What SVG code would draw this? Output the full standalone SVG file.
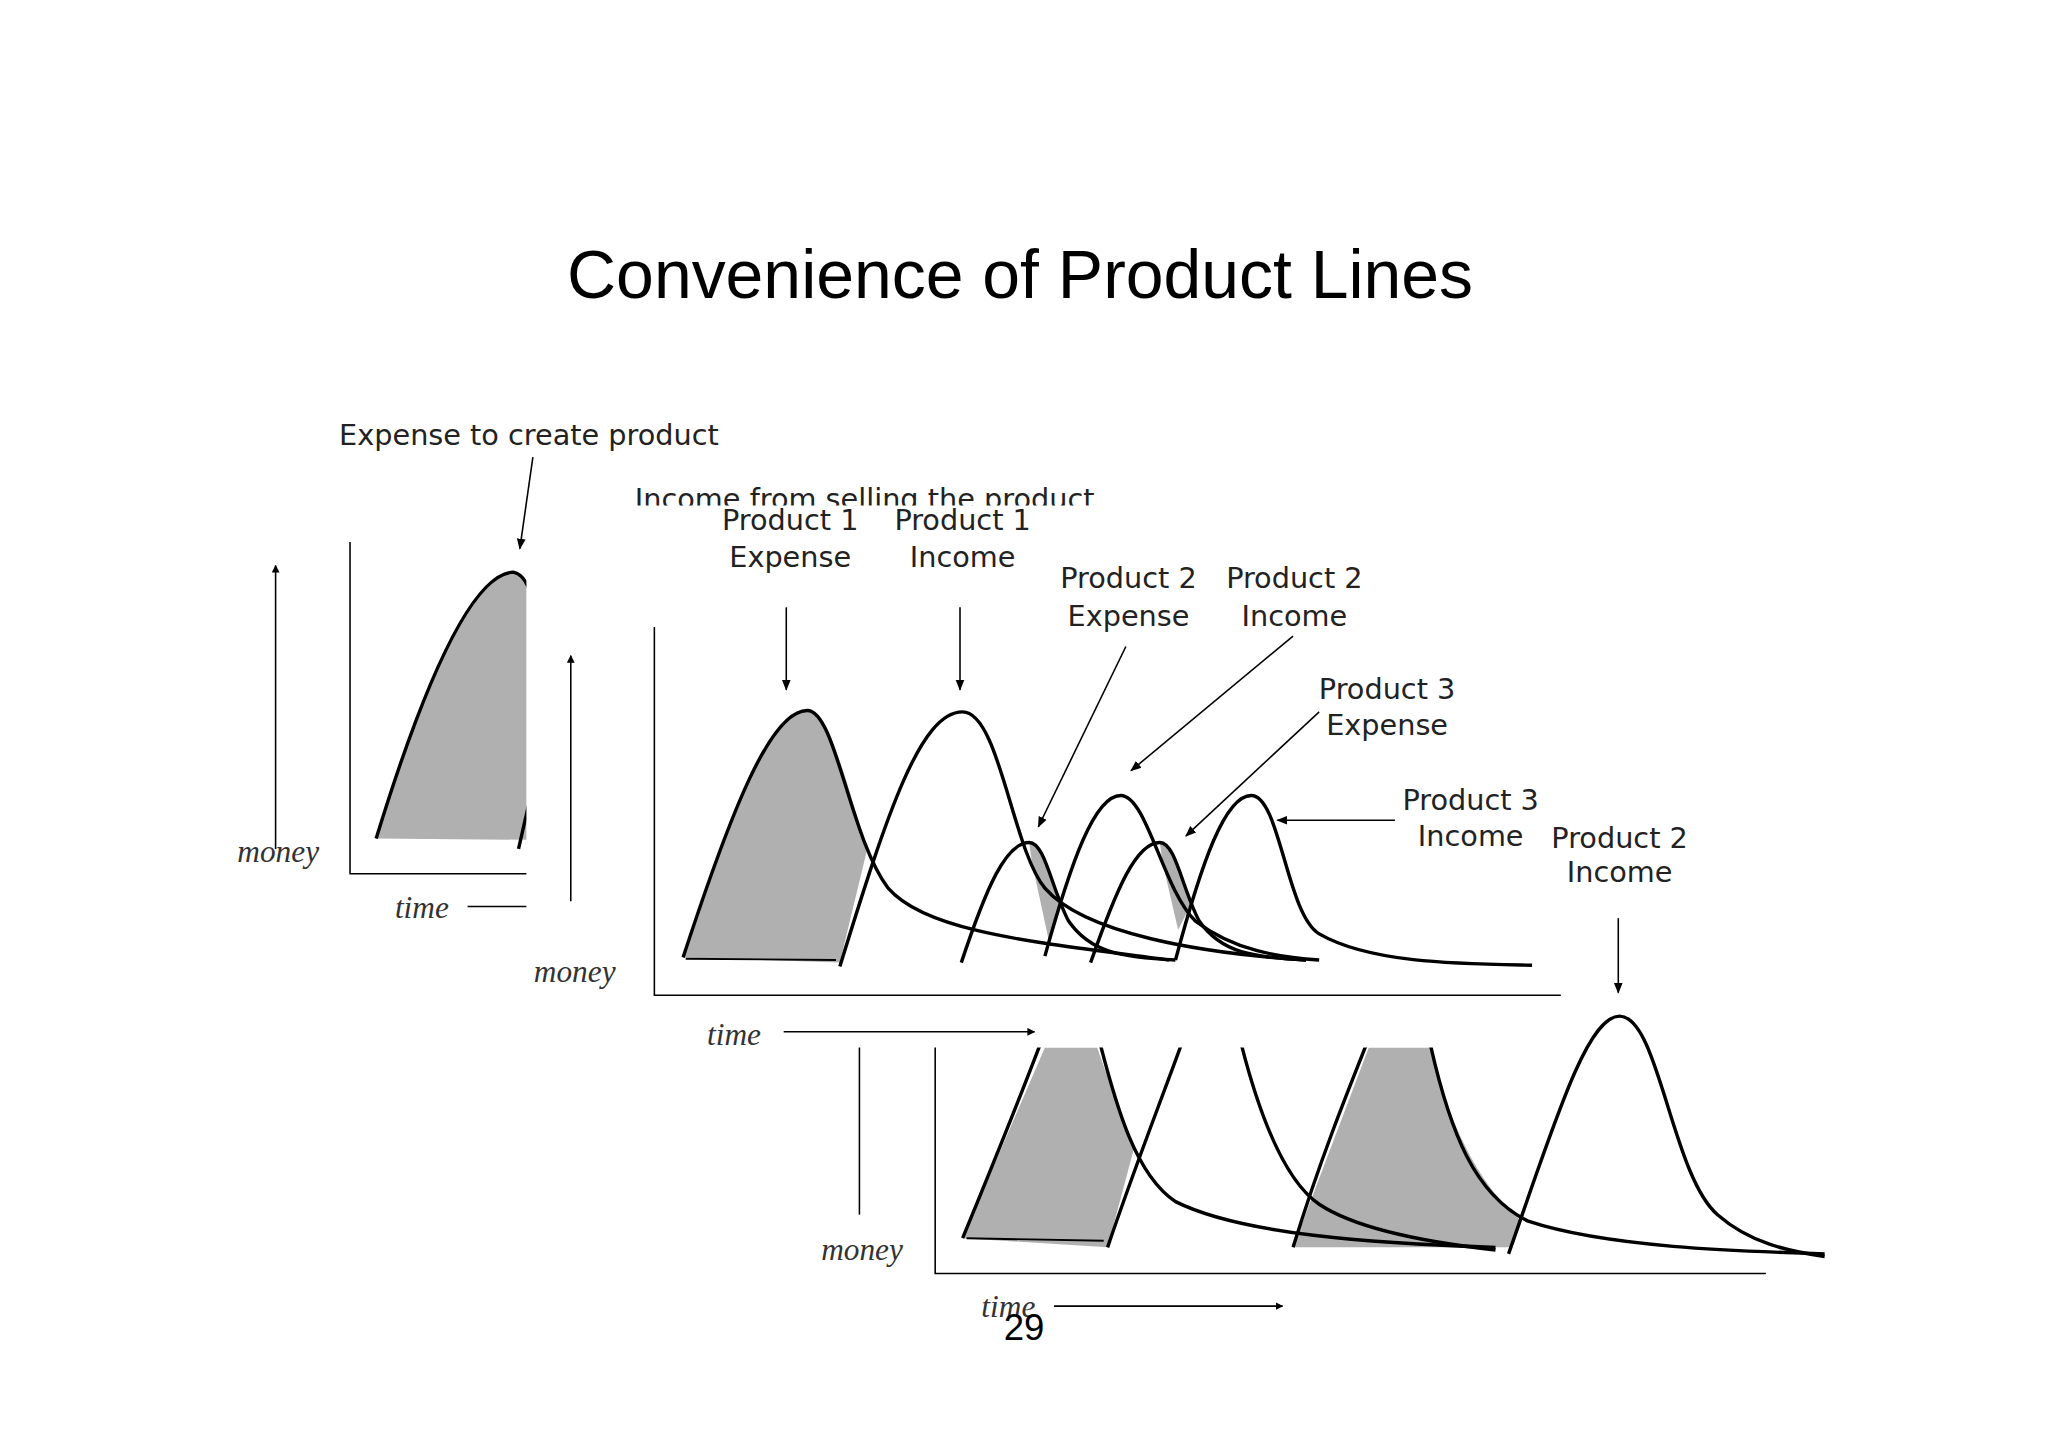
<svg xmlns="http://www.w3.org/2000/svg" width="2048" height="1447" viewBox="0 0 2048 1447">
<defs>
<marker id="ah" viewBox="0 0 10 10" refX="9" refY="5" markerWidth="5" markerHeight="5" orient="auto"><path d="M0,0L10,5L0,10z" fill="#000"/></marker>
<marker id="as" viewBox="0 0 10 10" refX="9" refY="5" markerWidth="7" markerHeight="7" orient="auto"><path d="M0,1L10,5L0,9z" fill="#000"/></marker>
<clipPath id="c1"><rect x="260" y="400" width="143" height="300"/></clipPath>
<clipPath id="c3"><rect x="700" y="802" width="720" height="200"/></clipPath>
</defs>
<style>
.ax{stroke:#000;stroke-width:1.2;fill:none}
.cv{stroke:#000;stroke-width:2.6;fill:none}
.sh{fill:#b0b0b0;stroke:none}
.lab{font-family:"DejaVu Sans",sans-serif;font-size:22px;fill:#222;text-anchor:middle}
.it{font-family:"Liberation Serif",serif;font-style:italic;font-size:24px;fill:#333;text-anchor:middle}
.ar{stroke:#000;stroke-width:1.2;fill:none;marker-end:url(#as)}
</style>
<rect width="2048" height="1447" fill="#fff"/>
<g transform="scale(1.30612)">
<text id="title" x="781" y="228" font-family="Liberation Sans, sans-serif" font-size="52" text-anchor="middle">Convenience of Product Lines</text>
<g id="panel1">
<g clip-path="url(#c1)">
<path class="sh" d="M288,642 Q350,440 393,438 Q405,440 410,470 L410,643 Z"/>
<path class="cv" d="M288,642 Q350,440 393,438 Q405,440 410,470"/>
<path class="cv" d="M397,650 L405,615"/>
</g>
<path class="ax" d="M268,415 V669 H403"/>
<line class="ax" x1="211" y1="650" x2="211" y2="433" marker-end="url(#ah)"/>
<line class="ax" x1="358" y1="694" x2="403" y2="694"/>
<text class="it" x="213" y="660">money</text>
<text class="it" x="323" y="703">time</text>
<text class="lab" x="405" y="341">Expense to create product</text>
<line class="ar" x1="408" y1="350" x2="398" y2="420"/>
</g>
<g id="panel2">
<svg x="470" y="360" width="400" height="27" overflow="hidden"><text class="lab" x="192" y="30">Income from selling the product</text></svg>
<path class="ax" d="M501,480 V762 H1195"/>
<line class="ax" x1="437" y1="690" x2="437" y2="502" marker-end="url(#ah)"/>
<line class="ax" x1="600" y1="790" x2="792" y2="790" marker-end="url(#ah)"/>
<text class="it" x="440" y="752">money</text>
<text class="it" x="562" y="800">time</text>
<path class="sh" d="M523,733 C560,620 590,544 618,544 C635,544 648,600 664,650 L643,737 Z"/>
<path class="sh" d="M788,645 C798,645 804,665 812,695 L803,720 L790,660 Z"/>
<path class="sh" d="M888,645 C898,645 904,668 912,692 L902,712 L890,660 Z"/>
<path class="cv" d="M523,733 C560,620 590,544 618,544 C640,544 650,640 680,680 C710,715 800,722 895,735"/>
<path class="cv" d="M643,740 C680,620 705,545 737,545 C765,545 775,650 800,680 C830,715 920,730 1000,735"/>
<path class="cv" d="M736,737 C755,680 770,645 788,645 C800,645 805,680 818,705 C835,730 860,733 900,735"/>
<path class="cv" d="M800,732 C820,660 838,609 858,609 C878,609 890,680 915,705 C945,728 980,733 1010,735"/>
<path class="cv" d="M835,737 C855,680 870,645 888,645 C900,645 905,680 918,705 C935,730 960,733 1000,735"/>
<path class="cv" d="M900,735 C920,660 938,609 958,609 C980,609 985,700 1010,715 C1050,738 1120,738 1173,739"/>
<line x1="525" y1="734" x2="640" y2="735" stroke="#000" stroke-width="1.5"/>
</g>
<g id="labels">
<text class="lab" x="605" y="406">Product 1</text><text class="lab" x="605" y="434">Expense</text>
<text class="lab" x="737" y="406">Product 1</text><text class="lab" x="737" y="434">Income</text>
<text class="lab" x="864" y="450">Product 2</text><text class="lab" x="864" y="479">Expense</text>
<text class="lab" x="991" y="450">Product 2</text><text class="lab" x="991" y="479">Income</text>
<text class="lab" x="1062" y="535">Product 3</text><text class="lab" x="1062" y="563">Expense</text>
<text class="lab" x="1126" y="620">Product 3</text><text class="lab" x="1126" y="648">Income</text>
<text class="lab" x="1240" y="649" font-size="19">Product 2</text><text class="lab" x="1240" y="675" font-size="19">Income</text>
</g>
<g id="connectors">
<line class="ar" x1="602" y1="465" x2="602" y2="528"/>
<line class="ar" x1="735" y1="465" x2="735" y2="528"/>
<line class="ar" x1="862" y1="495" x2="795" y2="633"/>
<line class="ar" x1="990" y1="487" x2="866" y2="590"/>
<line class="ar" x1="1010" y1="545" x2="908" y2="640"/>
<line class="ar" x1="1068" y1="628" x2="978" y2="628"/>
<line class="ar" x1="1239" y1="703" x2="1239" y2="760"/>
</g>
<g id="panel3">
<g clip-path="url(#c3)">
<path class="sh" d="M737,948 L800,802 L840,802 C850,830 860,860 868,880 L848,955 Z"/>
<path class="sh" d="M990,955 L1048,802 L1095,802 C1110,860 1130,905 1165,935 L1158,955 Z"/>
<path class="cv" d="M737,948 C765,880 785,830 800,790 M840,790 C855,850 870,900 900,920 C950,945 1050,952 1145,955"/>
<path class="cv" d="M848,955 C870,890 890,840 908,790"/>
<path class="cv" d="M948,790 C965,860 985,905 1010,922 C1040,942 1100,952 1145,957"/>
<path class="cv" d="M990,955 C1010,890 1030,840 1050,790 M1093,790 C1110,870 1130,915 1170,935 C1230,955 1330,958 1397,960"/>
</g>
<path class="cv" d="M1155,960 C1190,860 1215,778 1240,778 C1270,778 1280,900 1315,930 C1340,952 1370,958 1397,962"/>
<line x1="740" y1="948" x2="845" y2="950" stroke="#000" stroke-width="1.5"/>
<path class="ax" d="M716,802 V975 H1352"/>
<line class="ax" x1="658" y1="802" x2="658" y2="930"/>
<line class="ax" x1="807" y1="1000" x2="982" y2="1000" marker-end="url(#ah)"/>
<text class="it" x="660" y="965">money</text>
<text class="it" x="772" y="1008">time</text>
<text x="784" y="1026" font-family="Liberation Sans, sans-serif" font-size="28" text-anchor="middle">29</text>
</g>
</g>
</svg>
